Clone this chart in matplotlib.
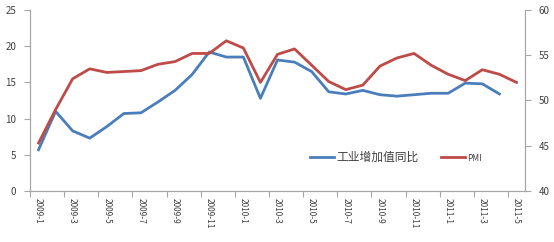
"""
Industrial value added YoY vs PMI, 2009-1 .. 2011-5
"""
import matplotlib
matplotlib.use("Agg")
import matplotlib.pyplot as plt
import numpy as np

plt.rcParams['font.family'] = ['Noto Sans CJK SC', 'DejaVu Sans']

months = ["%d-%d" % (y, m) for y in (2009, 2010, 2011) for m in range(1, 13)][:29]
ind_yoy = [5.7, 11.0, 8.3, 7.3, 8.9, 10.7, 10.8, 12.3, 13.9, 16.1, 19.2, 18.5,
           18.5, 12.8, 18.1, 17.8, 16.5, 13.7, 13.4, 13.9, 13.3, 13.1, 13.3, 13.5,
           13.5, 14.9, 14.8, 13.4]
pmi = [45.3, 49.0, 52.4, 53.5, 53.1, 53.2, 53.3, 54.0, 54.3, 55.2, 55.2, 56.6,
       55.8, 52.0, 55.1, 55.7, 53.9, 52.1, 51.2, 51.7, 53.8, 54.7, 55.2, 53.9,
       52.9, 52.2, 53.4, 52.9, 52.0]

blue = "#4A7EBB"
red = "#BE4B48"
axc = "#A6A6A6"
txt = "#404040"

fig = plt.figure(figsize=(5.54, 2.42), dpi=100)
ax = fig.add_axes([30/554, 51/242, 495/554, 181/242])
ax2 = ax.twinx()

l1, = ax.plot(np.arange(len(ind_yoy)), ind_yoy, color=blue, lw=2.0)
l2, = ax2.plot(np.arange(len(pmi)), pmi, color=red, lw=2.0)

ax.set_xlim(-0.5, len(months) - 0.5)
ax.set_ylim(0, 25)
ax2.set_ylim(40, 60)
ax.set_yticks(range(0, 26, 5))
ax2.set_yticks(range(40, 61, 5))

# tick marks between categories, labels on every 2nd category
ax.set_xticks(np.arange(-0.5, len(months), 2))
ax.set_xticklabels([])
ax.set_xticks(np.arange(0, len(months), 2), minor=True)
ax.set_xticklabels(months[::2], minor=True, rotation=270, fontsize=6, color=txt)
ax.tick_params(axis="x", which="minor", length=0, pad=5)
ax.tick_params(axis="x", which="major", length=4, color=axc, direction="out")
ax.tick_params(axis="y", length=4, color=axc, labelsize=7, labelcolor=txt, pad=6)
ax2.tick_params(axis="y", length=4, color=axc, labelsize=7, labelcolor=txt, pad=6)

for a in (ax, ax2):
    a.spines["top"].set_visible(False)
    for s in ("left", "right", "bottom"):
        a.spines[s].set_color(axc)
        a.spines[s].set_linewidth(0.8)

leg = ax.legend([l1, l2], ["工业增加值同比", "PMI"], loc="center left",
                bbox_to_anchor=(0.545, 0.185), ncol=2, frameon=False,
                fontsize=8.5, handlelength=2.0, handletextpad=0.2, columnspacing=1.9)
for t in leg.get_texts():
    t.set_color(txt)
leg.get_texts()[1].set_fontsize(6)

fig.savefig("out.png", dpi=100)
